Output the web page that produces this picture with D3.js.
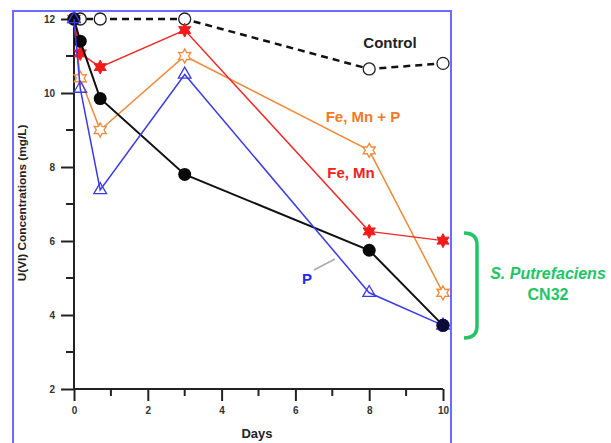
<!DOCTYPE html>
<html><head><meta charset="utf-8">
<script src="https://cdn.jsdelivr.net/npm/d3@7"></script>
<style>body{margin:0;background:#fff}svg{display:block}</style>
</head><body>
<svg id="c" width="611" height="443"></svg>
<script>
const days = [0, 0.17, 0.71, 3, 8, 10];
const control = [12, 12, 12, 12, 10.65, 10.8];
const cn32 = [12, 11.4, 9.85, 7.8, 5.75, 3.72];
const feMn = [12, 11.07, 10.7, 11.7, 6.26, 6.01];
const feMnP = [12, 10.4, 9.0, 11.0, 8.45, 4.6];
const pOnly = [12, 10.12, 7.38, 10.5, 4.6, 3.72];
const xTicks = [0, 2, 4, 6, 8, 10];
const yTicks = [2, 4, 6, 8, 10, 12];
const xMinor = [1, 3, 5, 7, 9];
const yMinor = [3, 5, 7, 9, 11];

const svg = d3.select("#c");
const x = d3.scaleLinear().domain([0, 10]).range([74, 443]);
const y = d3.scaleLinear().domain([2, 12]).range([389, 19]);
const FONT = "'Liberation Sans', Arial, sans-serif";

// outer blue frame
svg.append("rect").attr("x", 13).attr("y", 11).attr("width", 438).attr("height", 450)
  .attr("fill", "none").attr("stroke", "#6b6bff").attr("stroke-width", 2);

// axes
const ax = svg.append("g").attr("transform", "translate(0,389)")
  .call(d3.axisBottom(x).tickValues(xTicks).tickSize(12).tickPadding(6).tickFormat(d3.format("d")));
const ay = svg.append("g").attr("transform", "translate(74,0)")
  .call(d3.axisLeft(y).tickValues(yTicks).tickSize(13).tickPadding(6).tickFormat(d3.format("d")));
[ax, ay].forEach(g => {
  g.select(".domain").attr("stroke", "#222").attr("stroke-width", 2);
  g.selectAll(".tick line").attr("stroke", "#222").attr("stroke-width", 2);
  g.selectAll(".tick text").attr("font-family", FONT).attr("font-weight", "bold")
    .attr("font-size", 10).attr("fill", "#333");
});
ax.select(".domain").attr("d", `M${x(0)},0H${x(10)}`);
ay.select(".domain").attr("d", `M0,${y(2)}V${y(12)}`);
svg.append("g").selectAll("line").data(xMinor).join("line")
  .attr("x1", d => x(d)).attr("x2", d => x(d)).attr("y1", 389).attr("y2", 396)
  .attr("stroke", "#222").attr("stroke-width", 2);
svg.append("g").selectAll("line").data(yMinor).join("line")
  .attr("x1", 74).attr("x2", 66).attr("y1", d => y(d)).attr("y2", d => y(d))
  .attr("stroke", "#222").attr("stroke-width", 2);

svg.append("text").attr("x", 257).attr("y", 438).attr("text-anchor", "middle")
  .attr("font-family", FONT).attr("font-weight", "bold").attr("font-size", 13).attr("fill", "#222").text("Days");
svg.append("text").attr("transform", "translate(26,203) rotate(-90)").attr("text-anchor", "middle")
  .attr("font-family", FONT).attr("font-weight", "bold").attr("font-size", 11.8).attr("fill", "#222")
  .text("U(VI) Concentrations (mg/L)");

const line = d3.line().x(d => x(d[0])).y(d => y(d[1]));
function series(vals, color, width, dash) {
  const pts = days.map((d, i) => [d, vals[i]]);
  svg.append("path").datum(pts).attr("d", line).attr("fill", "none")
    .attr("stroke", color).attr("stroke-width", width).attr("stroke-dasharray", dash || null);
  return pts;
}
function star6(r) {
  let s = "";
  for (let i = 0; i < 12; i++) {
    const a = Math.PI / 6 * i - Math.PI / 2;
    const rr = i % 2 === 0 ? r : r * 0.55;
    s += (i ? "L" : "M") + (rr * Math.cos(a)).toFixed(2) + "," + (rr * Math.sin(a)).toFixed(2);
  }
  return s + "Z";
}

// Control
const cPts = series(control, "#111", 2.5, "7,5");
svg.append("g").selectAll("circle").data(cPts).join("circle")
  .attr("cx", d => x(d[0])).attr("cy", d => y(d[1])).attr("r", 6)
  .attr("fill", "#fff").attr("stroke", "#222").attr("stroke-width", 1.3);

// Fe, Mn + P
const oPts = series(feMnP, "#f08a3a", 1.5);
svg.append("g").selectAll("path").data(oPts).join("path")
  .attr("transform", d => `translate(${x(d[0])},${y(d[1])})`).attr("d", star6(7))
  .attr("fill", "#fff").attr("stroke", "#f08a3a").attr("stroke-width", 1.3);

// Fe, Mn
const rPts = series(feMn, "#f02828", 1.5);
svg.append("g").selectAll("path").data(rPts).join("path")
  .attr("transform", d => `translate(${x(d[0])},${y(d[1])})`).attr("d", star6(7))
  .attr("fill", "#f01c1c").attr("stroke", "#f01c1c").attr("stroke-width", 1);

// CN32 (black)
const bPts = series(cn32, "#111", 2);
svg.append("g").selectAll("circle").data(bPts).join("circle")
  .attr("cx", d => x(d[0])).attr("cy", d => y(d[1])).attr("r", 6.5).attr("fill", "#0a0a0a");

// P
const pPts = series(pOnly, "#3b3be6", 1.5);
const tri = d3.symbol().type(d3.symbolTriangle).size(70);
svg.append("g").selectAll("path").data(pPts).join("path")
  .attr("transform", d => `translate(${x(d[0])},${y(d[1])})`).attr("d", tri)
  .attr("fill", "none").attr("stroke", "#3b3be6").attr("stroke-width", 1.3);
// dark overlap at final point
svg.append("circle").attr("cx", x(10)).attr("cy", y(3.72)).attr("r", 6.5).attr("fill", "#0b0b3a");

// labels
svg.append("text").attr("x", 390).attr("y", 48).attr("text-anchor", "middle").attr("font-family", FONT)
  .attr("font-weight", "bold").attr("font-size", 15).attr("fill", "#222").text("Control");
svg.append("text").attr("x", 363).attr("y", 122).attr("text-anchor", "middle").attr("font-family", FONT)
  .attr("font-weight", "bold").attr("font-size", 15).attr("fill", "#f07a28").text("Fe, Mn + P");
svg.append("text").attr("x", 351).attr("y", 178).attr("text-anchor", "middle").attr("font-family", FONT)
  .attr("font-weight", "bold").attr("font-size", 15).attr("fill", "#f02020").text("Fe, Mn");
svg.append("text").attr("x", 307).attr("y", 284).attr("text-anchor", "middle").attr("font-family", FONT)
  .attr("font-weight", "bold").attr("font-size", 15).attr("fill", "#2a2ae0").text("P");
svg.append("line").attr("x1", 314).attr("y1", 270).attr("x2", 335).attr("y2", 259)
  .attr("stroke", "#aaa").attr("stroke-width", 1.5);

// bracket
svg.append("path").attr("d", "M464,233 Q477,233 477,245 V326 Q477,338 464,338")
  .attr("fill", "none").attr("stroke", "#22c566").attr("stroke-width", 3.5);
svg.append("text").attr("x", 548).attr("y", 279).attr("text-anchor", "middle").attr("font-family", FONT)
  .attr("font-weight", "bold").attr("font-style", "italic").attr("font-size", 16).attr("fill", "#22c566")
  .text("S. Putrefaciens");
svg.append("text").attr("x", 548).attr("y", 300).attr("text-anchor", "middle").attr("font-family", FONT)
  .attr("font-weight", "bold").attr("font-size", 16).attr("fill", "#22c566").text("CN32");
</script>
</body></html>
